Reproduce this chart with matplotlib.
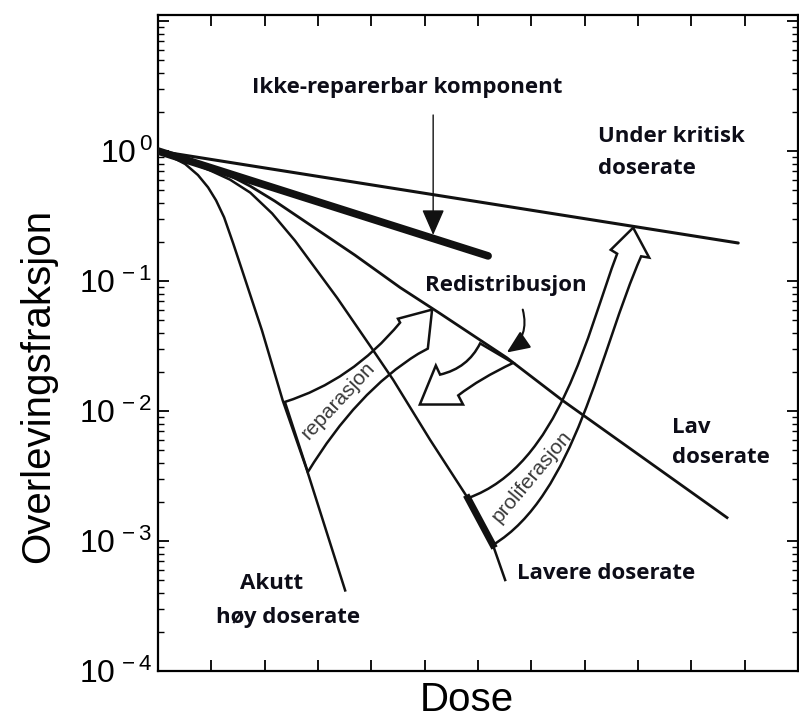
import numpy as np
import matplotlib.pyplot as plt
from matplotlib.path import Path
from matplotlib.patches import PathPatch
from matplotlib.ticker import FixedLocator, LogLocator, FuncFormatter, NullFormatter

plt.rcParams['mathtext.fontset'] = 'custom'
plt.rcParams['mathtext.rm'] = 'Liberation Sans'
plt.rcParams['mathtext.it'] = 'Liberation Sans:italic'
plt.rcParams['mathtext.bf'] = 'Liberation Sans:bold'

# cell survival curves: dose (arbitrary units) and log10 of the surviving fraction
dose_acute = [0, 0.23, 0.51, 0.75, 0.94, 1.09, 1.24, 1.41, 1.58, 1.95, 2.34, 2.79, 3.51]
logs_acute = [0, -0.04, -0.10, -0.185, -0.28, -0.38, -0.51, -0.71, -0.92, -1.38, -1.92, -2.45, -3.38]

dose_lower = [0, 0.51, 0.98, 1.35, 1.73, 2.14, 2.57, 3.36, 4.03, 4.41, 5.10, 5.81, 6.28, 6.51]
logs_lower = [0, -0.07, -0.15, -0.22, -0.32, -0.48, -0.69, -1.13, -1.53, -1.76, -2.22, -2.67, -3.03, -3.30]

dose_low = [0, 0.79, 1.26, 1.73, 2.19, 2.66, 3.69, 4.54, 5.29, 6.54, 7.59, 10.67]
logs_low = [0, -0.10, -0.17, -0.27, -0.385, -0.515, -0.80, -1.05, -1.25, -1.59, -1.92, -2.82]

dose_subcrit = [0, 10.88]
surv_subcrit = [1.0, 0.196]

dose_irrep = [0, 6.19]
surv_irrep = [1.0, 0.156]

# part of the "lavere doserate" curve where proliferation starts
dose_prolif_base = [5.81, 6.28]

# outlines of the hollow arrows (dose, log10 survival)
rep_dose = [2.38, 3.63, 4.54, 4.50, 5.14, 5.06, 4.88, 3.73, 2.81]
rep_logs = [-1.93, -1.77, -1.32, -1.29, -1.22, -1.52, -1.56, -1.85, -2.47]

redis_dose = [6.04, 5.81, 5.29, 5.21, 4.91, 5.72, 5.63, 6.04, 6.66]
redis_logs = [-1.48, -1.67, -1.72, -1.65, -1.95, -1.95, -1.88, -1.75, -1.63]

prolif_dose = [5.81, 7.54, 8.06, 8.61, 8.49, 8.91, 9.21, 9.06, 8.29, 7.82, 6.28]
prolif_logs = [-2.67, -2.42, -1.38, -0.79, -0.76, -0.59, -0.82, -0.81, -1.53, -2.65, -3.03]

yticks = [1e-4, 1e-3, 1e-2, 1e-1, 1e0]

fig = plt.figure(figsize=(7.99, 7.22), dpi=100)
ax = fig.add_axes([0.1977, 0.0706, 0.801, 0.9086])
ax.set_yscale('log')
ax.set_xlim(0, 12)
ax.set_ylim(1e-4, 10 ** 1.046)

lc = '#111111'
ax.plot(dose_acute, 10 ** np.array(logs_acute), color=lc, lw=1.8, zorder=4)
ax.plot(dose_lower, 10 ** np.array(logs_lower), color=lc, lw=1.8, zorder=4)
ax.plot(dose_low, 10 ** np.array(logs_low), color=lc, lw=2.0, zorder=4)
ax.plot(dose_subcrit, surv_subcrit, color=lc, lw=2.2, zorder=4, solid_capstyle='round')
ax.plot(dose_irrep, surv_irrep, color=lc, lw=5.5, zorder=4, solid_capstyle='round')

base = np.interp(dose_prolif_base, dose_lower, logs_lower)
ax.plot(dose_prolif_base, 10 ** base, color=lc, lw=5, zorder=4)


def hollow(xs, ls, codes):
    verts = list(zip(xs, 10 ** np.array(ls)))
    verts.append(verts[0])
    codes = codes + [Path.CLOSEPOLY]
    ax.add_patch(PathPatch(Path(verts, codes), facecolor='white',
                           edgecolor=lc, lw=1.8, zorder=3))


M, C3, C4, L = Path.MOVETO, Path.CURVE3, Path.CURVE4, Path.LINETO
hollow(rep_dose, rep_logs, [M, C3, C3, L, L, L, L, C3, C3])
hollow(redis_dose, redis_logs, [M, C3, C3, L, L, L, L, C3, C3])
hollow(prolif_dose, prolif_logs, [M, C4, C4, C4, L, L, L, L, C4, C4, C4])

# labels inside the hollow arrows
ax.text(3.39, 10 ** -1.92, 'reparasjon', rotation=47, rotation_mode='anchor',
        ha='center', va='center', fontsize=15, color='#3a3a3a',
        family='Liberation Sans', zorder=5)
ax.text(7.01, 10 ** -2.50, 'proliferasjon', rotation=50, rotation_mode='anchor',
        ha='center', va='center', fontsize=15, color='#3a3a3a',
        family='Liberation Sans', zorder=5)

# pointer arrows
ax.annotate('', xy=(5.16, 10 ** -0.646), xytext=(5.16, 10 ** 0.277),
            arrowprops=dict(arrowstyle='-|>,head_length=0.8,head_width=0.35',
                            lw=1.0, color=lc, shrinkA=0, shrinkB=0,
                            mutation_scale=20), zorder=5)
ax.annotate('', xy=(6.54, 10 ** -1.55), xytext=(6.84, 10 ** -1.22),
            arrowprops=dict(arrowstyle='-|>,head_length=0.7,head_width=0.3',
                            connectionstyle='arc3,rad=-0.35', lw=1.5,
                            color=lc, shrinkA=0, shrinkB=0,
                            mutation_scale=20), zorder=5)

# annotation text
tk = dict(fontsize=16, fontweight='bold', family='Open Sans', color='#0d0d18',
          ha='left', va='center', zorder=6)
ax.text(1.76, 10 ** 0.485, 'Ikke-reparerbar komponent', **tk)
ax.text(8.25, 10 ** 0.108, 'Under kritisk', **tk)
ax.text(8.25, 10 ** -0.131, 'doserate', **tk)
ax.text(5.01, 10 ** -1.031, 'Redistribusjon', **tk)
ax.text(9.64, 10 ** -2.123, 'Lav', **tk)
ax.text(9.64, 10 ** -2.354, 'doserate', **tk)
ax.text(6.73, 10 ** -3.246, 'Lavere doserate', **tk)
ax.text(1.54, 10 ** -3.323, 'Akutt', **tk)
ax.text(1.09, 10 ** -3.585, 'høy doserate', **tk)

# axes styling
ax.set_xticks(range(1, 12))
ax.xaxis.set_major_formatter(NullFormatter())
ax.yaxis.set_major_locator(FixedLocator(yticks + [10.0]))
ax.yaxis.set_minor_locator(LogLocator(base=10, subs=np.arange(2, 10)))
ax.yaxis.set_minor_formatter(NullFormatter())
ax.yaxis.set_major_formatter(FuncFormatter(
    lambda v, p: r'$10^{\,%d}$' % round(np.log10(v)) if v <= 1 else ''))
ax.tick_params(which='major', direction='in', length=8, width=1.3,
               top=True, right=True, labelsize=23, pad=4)
ax.tick_params(which='minor', direction='in', length=4, width=1.0,
               top=True, right=True)
for s in ax.spines.values():
    s.set_linewidth(1.6)

fig.text(38 / 799, 1 - 386 / 722, 'Overlevingsfraksjon', rotation=90,
         ha='center', va='center', fontsize=29, family='Liberation Sans')
fig.text(467 / 799, 1 - 700 / 722, 'Dose', ha='center', va='center',
         fontsize=29, family='Liberation Sans')

fig.savefig('out.png', dpi=100)
